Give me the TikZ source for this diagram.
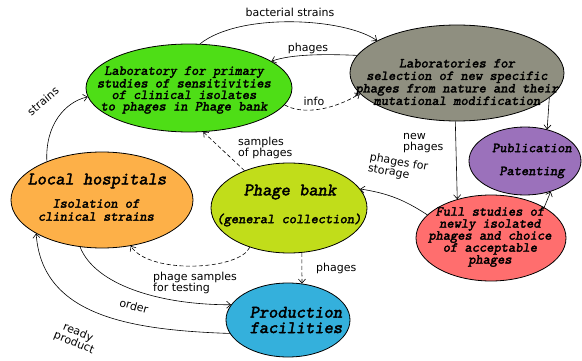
\documentclass[tikz,border=0pt]{standalone}
\usepackage{fontspec}
\newfontfamily\boxfont{Latin Modern Mono Slanted}[FakeBold=2.2]
\setsansfont{DejaVu Sans}
\usetikzlibrary{shapes.geometric,arrows.meta}

\definecolor{labgreen}{RGB}{78,222,22}
\definecolor{selgray}{RGB}{143,143,128}
\definecolor{pubpurple}{RGB}{155,113,187}
\definecolor{fullred}{RGB}{255,110,110}
\definecolor{bankyellow}{RGB}{193,221,26}
\definecolor{hosporange}{RGB}{253,176,72}
\definecolor{prodblue}{RGB}{52,176,220}

\begin{document}
\begin{tikzpicture}[x=1pt,y=1pt,
  area/.style={ellipse, draw=black, line width=0.8pt, inner sep=0pt},
  caption/.style={font=\boxfont\fontsize{13.8}{12}\selectfont, align=center, inner sep=0pt},
  heading/.style={font=\boxfont\fontsize{17.6}{15.5}\selectfont, align=center, inner sep=0pt},
  flow/.style={line width=0.6pt, -{Straight Barb[length=4pt,width=7pt]}},
  dashedflow/.style={flow, dash pattern=on 4pt off 2.5pt},
  tag/.style={font=\sffamily\fontsize{11}{11}\selectfont, inner sep=1pt}
]
\useasboundingbox (0,0) rectangle (582,360);

% areas
\node[area, fill=labgreen,   minimum width=206pt, minimum height=88pt] (lab)  at (189,272) {};
\node[area, fill=selgray,    minimum width=214pt, minimum height=96pt] (sel)  at (457,287) {};
\node[area, fill=pubpurple,  minimum width=112pt, minimum height=68pt] (pub)  at (525,199) {};
\node[area, fill=fullred,    minimum width=150pt, minimum height=86pt] (full) at (491,122) {};
\node[area, fill=bankyellow, minimum width=156pt, minimum height=90pt] (bank) at (289,152) {};
\node[area, fill=hosporange, minimum width=182pt, minimum height=96pt] (hosp) at (102,160) {};
\node[area, fill=prodblue,   minimum width=124pt, minimum height=74pt] (prod) at (288,40) {};

% texts inside the areas
\node[caption, font=\boxfont\fontsize{13.8}{11.5}\selectfont] (lab-text) at (184,270)
  {Laboratory for primary\\studies of sensitivities\\of clinical isolates\\to phages in Phage bank};
\node[caption, font=\boxfont\fontsize{13.8}{12.5}\selectfont] (sel-text) at (457,278)
  {Laboratories for\\selection of new specific\\phages from nature and their\\mutational modification};
\node[caption] (pub-text) at (532,199) {Publication\\[11pt]Patenting};
\node[caption] (full-text) at (490,123)
  {Full studies of\\newly isolated\\phages and choice\\of acceptable\\phages};
\node[heading] (bank-title) at (290,168) {Phage bank};
\node[caption] (bank-sub) at (289,140) {(general collection)};
\node[heading] (hosp-title) at (97,179) {Local hospitals};
\node[caption, font=\boxfont\fontsize{13.8}{13}\selectfont] (hosp-sub) at (96,150)
  {Isolation of\\clinical strains};
\node[heading] (prod-text) at (296,40) {Production\\facilities};

% flows between the areas
\draw[flow] (lab.76) .. controls (240,348) and (345,342) .. (sel.158);
\node[tag] (t-bact) at (290,348) {bacterial strains};

\draw[flow] (sel.170) .. controls (325,306) and (292,306) .. (lab.18);
\node[tag] (t-phg1) at (308,312) {phages};

\draw[dashedflow] (lab.-10) .. controls (300,246) and (330,248) .. (sel.192);
\node[tag] (t-info) at (314,259) {info};

\draw[flow] (hosp.145) .. controls (45,235) and (65,258) .. (lab.185);
\node[tag, rotate=40] (t-strains) at (43,259) {strains};

\draw[dashedflow] (bank.140) -- (lab.-72);
\node[tag, align=left, anchor=west] (t-samples) at (237,212) {samples\\of phages};

\draw[flow] (sel.-15) -- (pub.55);

\draw[flow] (sel.-92) -- (full.131);
\node[tag, align=left, anchor=west] (t-new) at (402,217) {new\\phages};

\draw[flow] (full.160) to[bend right=12] (bank.15);
\node[tag, align=left, rotate=-10] (t-storage) at (398,192) {phages for\\storage};

\draw[flow] (full.30) -- (pub.-50);

\draw[dashedflow] (bank.-74) -- (prod.69);
\node[tag, anchor=west] (t-phg2) at (315,92) {phages};

\draw[dashedflow] (bank.-135) .. controls (240,90) and (150,85) .. (hosp.-58);
\node[tag, align=left, anchor=west] (t-testing) at (152,77) {phage samples\\for testing};

\draw[flow] (hosp.-115) .. controls (95,75) and (160,55) .. (prod.165);
\node[tag, rotate=-15] (t-order) at (134,54) {order};

\draw[flow] (prod.193) .. controls (125,30) and (42,46) .. (hosp.-153);
\node[tag, align=center, rotate=-22] (t-ready) at (76,22) {ready\\product};
\end{tikzpicture}
\end{document}
